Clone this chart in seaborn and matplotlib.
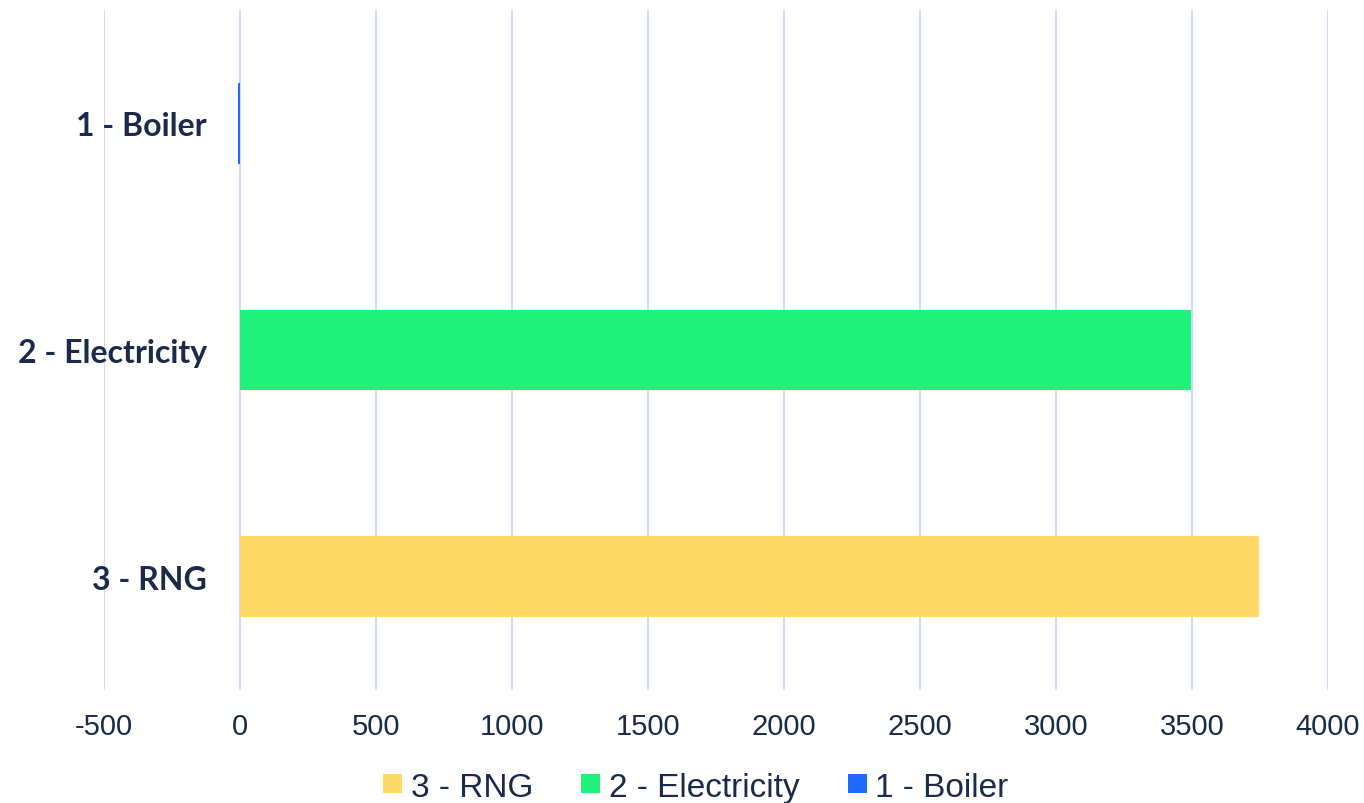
import matplotlib
matplotlib.use("Agg")
import matplotlib.pyplot as plt
import seaborn as sns
import pandas as pd
from matplotlib.patches import Patch

# Values by option
options = ["1 - Boiler", "2 - Electricity", "3 - RNG"]
values = [-7, 3496, 3745]
colors = ["#1F6BFF", "#1EF27A", "#FFD966"]
x_ticks = [-500, 0, 500, 1000, 1500, 2000, 2500, 3000, 3500, 4000]

sns.set_theme(style="white")
plt.rcParams["font.family"] = ["Liberation Sans", "DejaVu Sans"]

text_color = "#1B2A4A"
grid_color = "#CAD8F3"

df = pd.DataFrame({"option": options, "value": values})
palette = dict(zip(options, colors))

fig = plt.figure(figsize=(13.64, 8.04), dpi=100)
ax = fig.add_axes([104 / 1364, 1 - 691 / 804, (1328 - 104) / 1364, (691 - 11) / 804])

sns.barplot(data=df, y="option", x="value", hue="option", order=options,
            palette=palette, width=0.355, orient="h", legend=False, ax=ax,
            saturation=1, linewidth=0, zorder=3)

ax.set_xlim(-500, 4000)
ax.set_ylim(2.5, -0.5)
ax.set_xticks(x_ticks)
ax.set_xticklabels([str(t) for t in x_ticks])
ax.xaxis.grid(True, color=grid_color, linewidth=1.3, zorder=0)
ax.yaxis.grid(False)
ax.set_axisbelow(True)

for s in ["top", "right", "bottom"]:
    ax.spines[s].set_visible(False)
ax.spines["left"].set_position(("data", 0))
ax.spines["left"].set_visible(False)

ax.tick_params(axis="x", length=0, pad=16, labelsize=21, labelcolor=text_color)
ax.tick_params(axis="y", length=0, pad=24, labelcolor=text_color)
for lbl in ax.get_yticklabels():
    lbl.set_fontfamily(["Lato", "DejaVu Sans"])
    lbl.set_fontweight("bold")
    lbl.set_fontsize(23)

ax.set_xlabel("")
ax.set_ylabel("")

legend_order = [2, 1, 0]
handles = [Patch(facecolor=colors[i], edgecolor="none", label=options[i]) for i in legend_order]
fig.legend(handles=handles, loc="lower center", bbox_to_anchor=(0.51, -0.037), ncol=3,
           frameon=False, fontsize=24, handlelength=0.57, handleheight=0.5,
           handletextpad=0.25, columnspacing=1.45, labelcolor=text_color)

fig.savefig("out.png", dpi=100)
